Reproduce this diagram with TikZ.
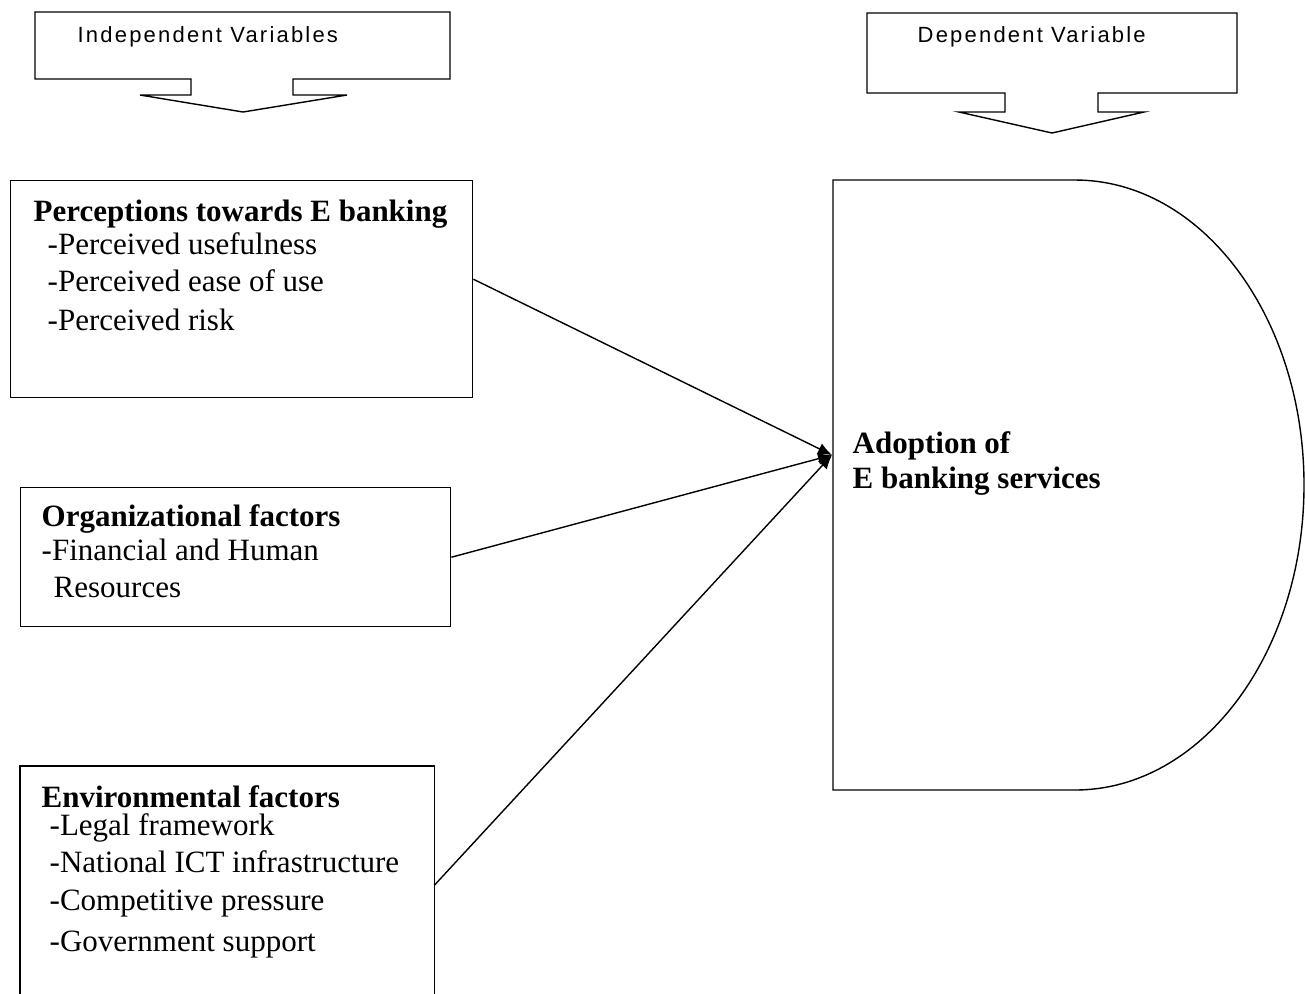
\documentclass[tikz,border=0pt]{standalone}
\usepackage{fontspec}
\setmainfont{Liberation Serif}
\newfontfamily\labelfont[LetterSpace=10]{Liberation Sans}
\usetikzlibrary{arrows.meta,calc}
\begin{document}
\begin{tikzpicture}[x=0.5pt,y=-0.5pt, line width=0.7pt,
  txt/.style={anchor=base west, inner sep=0pt, font=\fontsize{15.5pt}{19pt}\selectfont},
  ttl/.style={anchor=base west, inner sep=0pt, font=\fontsize{15.5pt}{19pt}\selectfont\bfseries},
  lbl/.style={anchor=base west, inner sep=0pt, font=\labelfont\fontsize{11pt}{13pt}\selectfont},
  box/.style={draw, rectangle, inner sep=0pt, anchor=north west},
  openbox/.style={rectangle, inner sep=0pt, anchor=north west},
  conn/.style={-{Latex[length=7pt,width=6pt]}}]

\useasboundingbox (0,0) rectangle (1305,993);

% callouts
\draw (35,12) -- (450,12) -- (450,79) -- (293,79) -- (293,95) -- (347,95) -- (243,112) -- (140,95) -- (191,95) -- (191,79) -- (35,79) -- cycle;
\node[lbl] (iv) at (77,42) {Independent Variables};
\draw (867,13) -- (1237,13) -- (1237,93) -- (1098,93) -- (1098,112) -- (1144,112) -- (1052,133) -- (959,112) -- (1005,112) -- (1005,93) -- (867,93) -- cycle;
\node[lbl] (dv) at (917,42) {Dependent Variable};

% boxes
\node[box, minimum width=231pt, minimum height=108.5pt] (perc) at (10,180) {};
\node[ttl] (percT) at (33,221) {Perceptions towards E banking};
\node[txt] (perc1) at (47,254) {-Perceived usefulness};
\node[txt] (perc2) at (47,291) {-Perceived ease of use};
\node[txt] (perc3) at (47,330) {-Perceived risk};

\node[box, minimum width=215pt, minimum height=69.5pt] (org) at (20,487) {};
\node[ttl] (orgT) at (41,526) {Organizational factors};
\node[txt] (org1) at (41,560) {-Financial and Human};
\node[txt] (org2) at (53,597) {Resources};

\node[openbox, minimum width=206.5pt, minimum height=113.5pt] (env) at (20,766) {};
\draw (env.south west) -- (env.north west) -- (env.north east) -- (env.south east);
\node[ttl] (envT) at (41,807) {Environmental factors};
\node[txt] (env1) at (49,835) {-Legal framework};
\node[txt] (env2) at (49,872) {-National ICT infrastructure};
\node[txt] (env3) at (49,910) {-Competitive pressure};
\node[txt] (env4) at (49,951) {-Government support};

% D shape
\draw (833,180) -- (1075,180) .. controls (1202,180) and (1304,317) .. (1304,485) .. controls (1304,653) and (1202,790) .. (1075,790) -- (833,790) -- cycle;
\node[ttl] (ad1) at (852,453) {Adoption of};
\node[ttl] (ad2) at (852,488) {E banking services};
\coordinate (tip) at (832,455);

% connectors
\draw[conn] ($(perc.east)+(0,-10)$) -- (tip);
\draw[conn] (org.east) -- (tip);
\draw[conn] ($(env.east)+(0,5)$) -- (tip);
\end{tikzpicture}
\end{document}
